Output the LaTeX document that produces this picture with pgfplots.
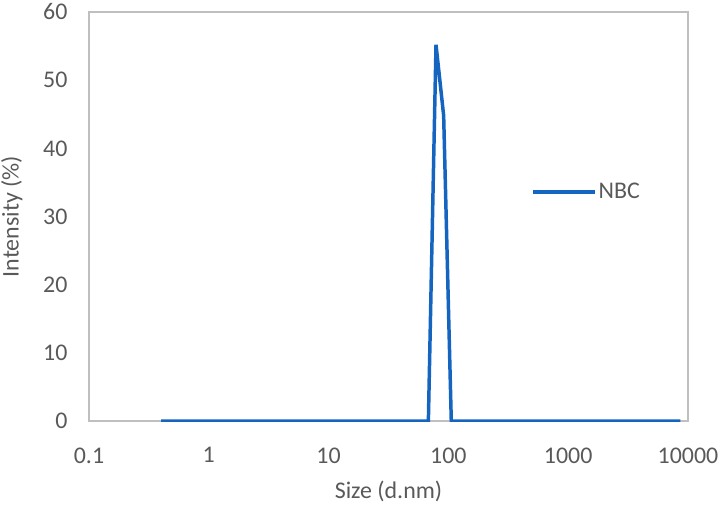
\documentclass[border=0pt]{standalone}
\usepackage{fontspec}
\setmainfont{Carlito}
\usepackage{pgfplots}
\pgfplotsset{compat=1.18}
\usetikzlibrary{calc}
\definecolor{lineblue}{RGB}{21,101,192}
\definecolor{axgray}{RGB}{191,191,191}
\definecolor{txtgray}{RGB}{89,89,89}
\begin{document}
\begin{tikzpicture}
\begin{axis}[
  name=ax,
  scale only axis,
  width=599bp, height=409bp,
  xmode=log,
  xmin=0.1, xmax=10000,
  ymin=0, ymax=60,
  ytick={0,10,20,30,40,50,60},
  xtick={0.1,1,10,100,1000,10000},
  xticklabels={0.1,1,10,100,1000,10000},
  log ticks with fixed point,
  minor xtick={},
  axis line style={axgray, line width=1.3pt},
  major tick length=0pt,
  tick style={draw=none},
  every tick label/.append style={font=\fontsize{24}{28}\selectfont, text=txtgray},
  /pgf/number format/assume math mode=true,
  xticklabel style={yshift=-23bp},
  yticklabel style={xshift=-18bp},
  xlabel={Size (d.nm)},
  ylabel={Intensity (\%)},
  label style={font=\fontsize{24}{28}\selectfont, text=txtgray},
  xlabel style={yshift=-11bp},
  ylabel style={yshift=14bp},
  legend style={draw=none, fill=none, at={(0.738,0.56)}, anchor=west,
    font=\fontsize{24}{28}\selectfont, text=txtgray, inner sep=0pt},
  legend cell align=left,
  legend image code/.code={\draw[#1, line width=3.5pt] (0bp,0bp) -- (62bp,0bp);},
]
\addplot[color=lineblue, line width=3.5pt] coordinates {
  (0.4,0) (68.06,0) (78.82,55.2) (91.28,44.8) (105.7,0) (8635,0)
};
\addlegendentry{NBC}
\end{axis}
\pgfresetboundingbox
\path[use as bounding box] ($(ax.south west)+(-89bp,-87bp)$) rectangle ($(ax.north east)+(39bp,12bp)$);
\end{tikzpicture}
\end{document}
